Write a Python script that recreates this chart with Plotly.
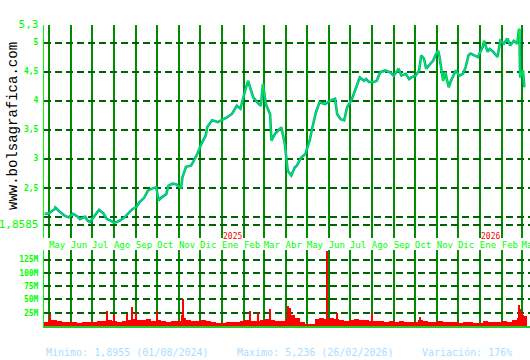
import plotly.graph_objects as go
import pandas as pd

# ---------------- data ----------------
price_dates = [
    "2024-04-25", "2024-05-01", "2024-05-09", "2024-05-10", "2024-05-16", "2024-05-23", "2024-05-29",
    "2024-06-04", "2024-06-11", "2024-06-14", "2024-06-21", "2024-06-25", "2024-06-28",
    "2024-07-03", "2024-07-08", "2024-07-11", "2024-07-17", "2024-07-22", "2024-07-26",
    "2024-08-01", "2024-08-05", "2024-08-09", "2024-08-16", "2024-08-21", "2024-08-27",
    "2024-09-02", "2024-09-06", "2024-09-13", "2024-09-18", "2024-09-23", "2024-09-30",
    "2024-10-03", "2024-10-07", "2024-10-14", "2024-10-17", "2024-10-23", "2024-10-28",
    "2024-11-04", "2024-11-06", "2024-11-11", "2024-11-18", "2024-11-21", "2024-11-27",
    "2024-12-03", "2024-12-09", "2024-12-11", "2024-12-13", "2024-12-18", "2024-12-26", "2024-12-31",
    "2025-01-08", "2025-01-15", "2025-01-22", "2025-01-27", "2025-01-31",
    "2025-02-04", "2025-02-07", "2025-02-11", "2025-02-14", "2025-02-20", "2025-02-25", "2025-02-28",
    "2025-03-04", "2025-03-10", "2025-03-12", "2025-03-17", "2025-03-21", "2025-03-26", "2025-03-31",
    "2025-04-02", "2025-04-04", "2025-04-09", "2025-04-14", "2025-04-17", "2025-04-23", "2025-04-29",
    "2025-05-05", "2025-05-09", "2025-05-14", "2025-05-19", "2025-05-27",
    "2025-06-03", "2025-06-10", "2025-06-13", "2025-06-18", "2025-06-23", "2025-06-27",
    "2025-07-04", "2025-07-09", "2025-07-15", "2025-07-21", "2025-07-24", "2025-07-28",
    "2025-08-04", "2025-08-08", "2025-08-13", "2025-08-20", "2025-08-27",
    "2025-09-01", "2025-09-08", "2025-09-12", "2025-09-18", "2025-09-23", "2025-09-26",
    "2025-10-02", "2025-10-07", "2025-10-10", "2025-10-14", "2025-10-17", "2025-10-22", "2025-10-27", "2025-10-30",
    "2025-11-03", "2025-11-05", "2025-11-10", "2025-11-13", "2025-11-18", "2025-11-21", "2025-11-28",
    "2025-12-03", "2025-12-08", "2025-12-12", "2025-12-16", "2025-12-19", "2025-12-24", "2025-12-29",
    "2026-01-05", "2026-01-07", "2026-01-12", "2026-01-15", "2026-01-20", "2026-01-26", "2026-01-30",
    "2026-02-04", "2026-02-09", "2026-02-13", "2026-02-18", "2026-02-23", "2026-02-25", "2026-02-26",
    "2026-02-27", "2026-03-03", "2026-03-05",
]
price_values = [
    2.05, 2.06, 2.13, 2.16, 2.09, 2.02, 1.99,
    2.05, 2.00, 1.96, 2.00, 1.93, 1.91,
    1.99, 2.07, 2.12, 2.06, 1.96, 1.94,
    1.90, 1.91, 1.93, 1.99, 2.05, 2.13,
    2.17, 2.25, 2.33, 2.45, 2.48, 2.51,
    2.28, 2.33, 2.39, 2.53, 2.57, 2.56,
    2.49, 2.68, 2.86, 2.88, 2.94, 3.08,
    3.26, 3.40, 3.54, 3.57, 3.66, 3.63, 3.66,
    3.71, 3.77, 3.91, 3.86, 4.06,
    4.23, 4.34, 4.17, 4.06, 3.97, 3.91, 4.29,
    3.94, 3.77, 3.31, 3.43, 3.48, 3.54, 3.25,
    3.02, 2.79, 2.71, 2.85, 2.88, 3.02, 3.08,
    3.31, 3.54, 3.80, 3.97, 3.94,
    4.00, 4.03, 3.77, 3.68, 3.66, 3.88,
    4.03, 4.20, 4.40, 4.34, 4.37, 4.32,
    4.32, 4.34, 4.49, 4.52, 4.49,
    4.43, 4.55, 4.43, 4.46, 4.37, 4.40,
    4.43, 4.52, 4.78, 4.72, 4.55, 4.63, 4.69, 4.78,
    4.86, 4.75, 4.34, 4.49, 4.23, 4.34, 4.52,
    4.43, 4.46, 4.58, 4.78, 4.81, 4.78, 4.75,
    4.92, 5.03, 4.84, 4.89, 4.84, 4.75, 5.03,
    4.98, 5.07, 4.95, 5.03, 4.98, 5.20, 5.236,
    4.40, 4.52, 4.23,
]

# weekly baseline volume (millions), weeks starting Monday 2024-04-22
week_start = "2024-04-22"
weekly_volume_m = [
    8, 12, 11, 10, 8, 7, 7, 6, 8, 7,
    8, 10, 9, 12, 10, 8, 9, 12, 13, 12,
    11, 13, 10, 12, 9, 8, 10, 9, 16, 12,
    10, 9, 11, 10, 8, 6, 6, 7, 8, 8,
    9, 11, 10, 9, 12, 14, 12, 9, 10, 14,
    20, 16, 8, 4, 3, 14, 15, 13, 16, 14,
    11, 10, 12, 13, 12, 11, 9, 10, 9, 8,
    9, 8, 9, 8, 7, 8, 11, 9, 8, 8,
    9, 8, 7, 7, 6, 8, 7, 6, 5, 9,
    8, 7, 8, 9, 8, 11, 15, 18,
]

# individual high-volume days (millions)
spike_dates = [
    "2024-05-03", "2024-07-22", "2024-08-01", "2024-08-19", "2024-08-26", "2024-09-02",
    "2024-10-01", "2024-11-05", "2024-11-07", "2025-02-10", "2025-02-21", "2025-03-10",
    "2025-04-04", "2025-04-07", "2025-05-30", "2025-06-13", "2025-08-01", "2025-10-09",
    "2026-02-26", "2026-02-27", "2026-03-02", "2026-03-03",
]
spike_volume_m = [
    22, 28, 22, 22, 36, 25,
    28, 20, 50, 28, 25, 32,
    37, 34, 141, 25, 24, 17,
    39, 32, 25, 20,
]

month_labels = ["May", "Jun", "Jul", "Ago", "Sep", "Oct", "Nov", "Dic", "Ene", "Feb", "Mar", "Abr",
                "May", "Jun", "Jul", "Ago", "Sep", "Oct", "Nov", "Dic", "Ene", "Feb", "Mar"]
year_labels = ["2025", "2026"]
year_dates = ["2025-01-01", "2026-01-01"]

price_ticks = [1.8585, 2, 2.5, 3, 3.5, 4, 4.5, 5, 5.3]
price_ticktext = ["<span style='font-size:11px;font-weight:normal'>1,8585</span>", "", "2,5", "3", "3,5", "4",
                  "4,5", "5", "<span style='font-size:11px;font-weight:normal'>5,3</span>"]
vol_ticks_m = [25, 50, 75, 100, 125]
vol_ticktext = ["25M", "50M", "75M", "100M", "125M"]

stats_text = ["Minimo: 1,8955 (01/08/2024)", "Maximo: 5,236 (26/02/2026)", "Variación: 176%"]

# ---------------- figure ----------------
W, H = 530, 360
month_starts = pd.date_range("2024-05-01", periods=len(month_labels), freq="MS")
week_dates = pd.date_range(week_start, periods=len(weekly_volume_m), freq="7D")
DAY = 86400000

GREEN = "#00ff00"
VGRID = "#008c00"
HGRID = "#006400"
MONO = "DejaVu Sans Mono"

fig = go.Figure()

fig.add_trace(go.Scatter(x=price_dates, y=price_values, mode="lines",
                         line=dict(color="#00a8b8", width=2.6), xaxis="x", yaxis="y",
                         hoverinfo="skip", showlegend=False))
fig.add_trace(go.Scatter(x=price_dates, y=price_values, mode="lines",
                         line=dict(color="#00ff00", width=1), xaxis="x", yaxis="y",
                         showlegend=False))

fig.add_trace(go.Bar(x=week_dates, y=[v * 1e6 for v in weekly_volume_m],
                     width=7 * DAY, offset=0, marker=dict(color="#ff0000", line=dict(width=0)),
                     xaxis="x2", yaxis="y2", showlegend=False))
fig.add_trace(go.Bar(x=spike_dates, y=[v * 1e6 for v in spike_volume_m],
                     width=1.6 * DAY, marker=dict(color="#ff0000", line=dict(width=0)),
                     xaxis="x2", yaxis="y2", showlegend=False))

xdom = [44 / W, 1.0]
xrange_ = ["2024-04-24", "2026-03-13"]

fig.update_layout(
    width=W, height=H,
    margin=dict(l=0, r=0, t=0, b=0, autoexpand=False),
    paper_bgcolor="white", plot_bgcolor="white",
    barmode="overlay", bargap=0,
    showlegend=False,
    xaxis=dict(domain=xdom, range=xrange_, type="date", anchor="y", automargin=False,
               tickmode="array", tickvals=month_starts, ticktext=month_labels, tickangle=0,
               showgrid=True, gridcolor=VGRID, gridwidth=2, zeroline=False, showline=False,
               ticks="", ticklabelposition="outside right", ticklabeloverflow="allow",
               tickfont=dict(family=MONO, size=9, color=GREEN), ticklabelstandoff=0),
    xaxis2=dict(domain=xdom, range=xrange_, type="date", anchor="y2", matches="x", automargin=False,
                tickmode="array", tickvals=month_starts, showticklabels=False,
                showgrid=True, gridcolor=VGRID, gridwidth=2, zeroline=False,
                showline=True, linecolor="#22cc22", linewidth=2, ticks=""),
    yaxis=dict(domain=[1 - 238 / H, 1 - 25 / H], range=[1.634, 5.302], anchor="x", automargin=False,
               tickmode="array", tickvals=price_ticks, ticktext=price_ticktext,
               showgrid=True, gridcolor=HGRID, gridwidth=2, griddash="7px,4px",
               zeroline=False, showline=True, linecolor=GREEN, linewidth=1, ticks="",
               tickfont=dict(family=MONO, size=8, color=GREEN, weight="bold"), ticklabelstandoff=3),
    yaxis2=dict(domain=[1 - 326 / H, 1 - 250 / H], range=[0, 143e6], anchor="x2", automargin=False,
                tickmode="array", tickvals=[v * 1e6 for v in vol_ticks_m], ticktext=vol_ticktext,
                showgrid=True, gridcolor=HGRID, gridwidth=2, griddash="7px,4px",
                zeroline=False, showline=True, linecolor=GREEN, linewidth=1, ticks="",
                tickfont=dict(family=MONO, size=8, color=GREEN, weight="bold"), ticklabelstandoff=3),
)

# year markers
for yd, yl in zip(year_dates, year_labels):
    fig.add_annotation(x=yd, y=1 - 236 / H, xref="x", yref="paper", text=yl, showarrow=False,
                       xanchor="left", yanchor="middle", xshift=-1,
                       font=dict(family=MONO, size=8, color="#ff0000"))

# watermark
fig.add_annotation(x=13 / W, y=1 - 126 / H, xref="paper", yref="paper", text="www.bolsagrafica.com",
                   showarrow=False, textangle=-90, xanchor="center", yanchor="middle",
                   font=dict(family="Liberation Mono", size=14, color="#000000"))

# statistics line
for xpix, txt in zip([44, 235, 420], stats_text):
    fig.add_annotation(x=xpix / W, y=1 - 352 / H, xref="paper", yref="paper", text=txt,
                       showarrow=False, xanchor="left", yanchor="middle",
                       font=dict(family=MONO, size=10, color="#aaddff"))

fig.write_html("out.html")
